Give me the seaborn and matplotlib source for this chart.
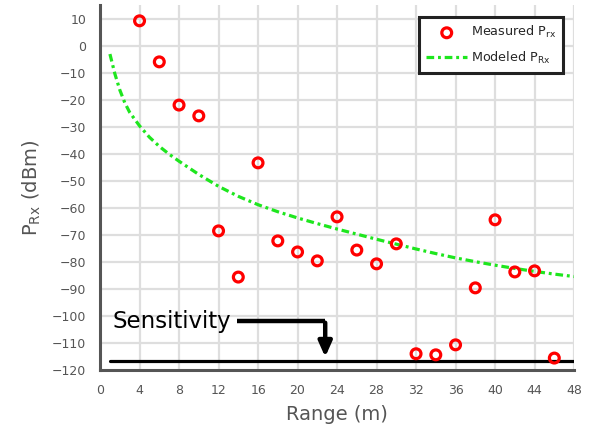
import matplotlib
matplotlib.use("Agg")
import matplotlib.pyplot as plt
import seaborn as sns
import pandas as pd

# Measured data
range_m = [4, 6, 8, 10, 12, 14, 16, 18, 20, 22, 24, 26, 28, 30, 32, 34, 36, 38, 40, 42, 44, 46]
measured_prx = [9.3, -5.9, -21.9, -25.9, -68.5, -85.6, -43.3, -72.2, -76.3, -79.6, -63.3,
                -75.6, -80.7, -73.3, -114.0, -114.4, -110.7, -89.6, -64.4, -83.7, -83.3, -115.6]

# Modeled curve
model_range = [1, 1.5, 2, 2.5, 3, 4, 5, 6, 7, 8, 10, 12, 14, 16, 18, 20, 22, 24, 26, 28,
               30, 32, 34, 36, 38, 40, 42, 44, 46, 48]
model_prx = [-3.0, -10.3, -16.3, -21.0, -24.6, -29.6, -33.8, -37.2, -40.1, -42.7, -47.6,
             -52.0, -55.7, -58.8, -61.4, -63.7, -65.8, -67.8, -69.7, -71.6, -73.4, -75.2,
             -76.9, -78.5, -79.9, -81.2, -82.4, -83.5, -84.5, -85.4]

sensitivity = -116.7
sens_range = [1, 48]

x_ticks = list(range(0, 49, 4))
y_ticks = list(range(-120, 11, 10))

sns.set_style("white")
plt.rcParams['font.family'] = ['DejaVu Sans']

fig = plt.figure(figsize=(5.92, 4.42), dpi=100)
ax = fig.add_axes([0.169, 0.163, 0.8007, 0.8247])

grid_c = '#dedede'
for xv in x_ticks[1:]:
    ax.axvline(xv, color=grid_c, lw=1.6, zorder=0)
for yv in y_ticks[1:]:
    ax.axhline(yv, color=grid_c, lw=1.6, zorder=0)

meas_df = pd.DataFrame({'range': range_m, 'prx': measured_prx})
model_df = pd.DataFrame({'range': model_range, 'prx': model_prx})

sns.lineplot(data=model_df, x='range', y='prx', ax=ax, color='#1ee61e', lw=2.3,
             label='Modeled P$_{\\rm Rx}$', zorder=3, sort=True)
ax.lines[-1].set_dashes((2.4, 1.2, 0.9, 1.2))

sns.scatterplot(data=meas_df, x='range', y='prx', ax=ax, marker='o', s=50,
                facecolor='none', edgecolor='#ff0000', linewidth=2.3,
                label='Measured P$_{\\rm rx}$', zorder=4)

ax.plot(sens_range, [sensitivity, sensitivity], color='black', lw=2.3, zorder=3)

# Sensitivity annotation
ty = -101.9
ax.text(1.3, ty, 'Sensitivity', fontsize=16.5, va='center', ha='left', color='black', zorder=5)
ax.plot([13.9, 22.8], [ty, ty], color='black', lw=3.2, solid_capstyle='butt', zorder=5)
ax.annotate('', xy=(22.8, -115.2), xytext=(22.8, ty - 0.6),
            arrowprops=dict(arrowstyle='-|>,head_length=0.9,head_width=0.4', color='black',
                            lw=3.2, shrinkA=0, shrinkB=0), zorder=5)

ax.set_xlim(0, 48)
ax.set_ylim(-120, 15)
ax.set_xticks(x_ticks)
ax.set_yticks(y_ticks)

spine_c = '#555555'
for s in ['top', 'right']:
    ax.spines[s].set_visible(False)
for s in ['left', 'bottom']:
    ax.spines[s].set_color(spine_c)
    ax.spines[s].set_linewidth(2.2)
ax.tick_params(axis='both', direction='out', length=7, width=2.2, color=spine_c,
               labelcolor='#555555', labelsize=9, pad=3)

ax.set_xlabel('Range (m)', fontsize=14, color='#555555', labelpad=6)
ax.set_ylabel('P$_{\\rm Rx}$ (dBm)', fontsize=14, color='#555555', labelpad=6)

# Legend: Measured then Modeled
handles, labels = ax.get_legend_handles_labels()
order = [labels.index('Measured P$_{\\rm rx}$'), labels.index('Modeled P$_{\\rm Rx}$')]
leg = ax.legend([handles[i] for i in order], [labels[i] for i in order],
                loc='upper right', bbox_to_anchor=(0.977, 0.968), fontsize=9.2,
                frameon=True, fancybox=False, edgecolor='#222222', framealpha=1,
                handlelength=3.2, handletextpad=0.3, borderpad=0.55, labelspacing=0.75,
                borderaxespad=0)
leg.get_frame().set_linewidth(2.2)

fig.savefig('out.png', dpi=100)
